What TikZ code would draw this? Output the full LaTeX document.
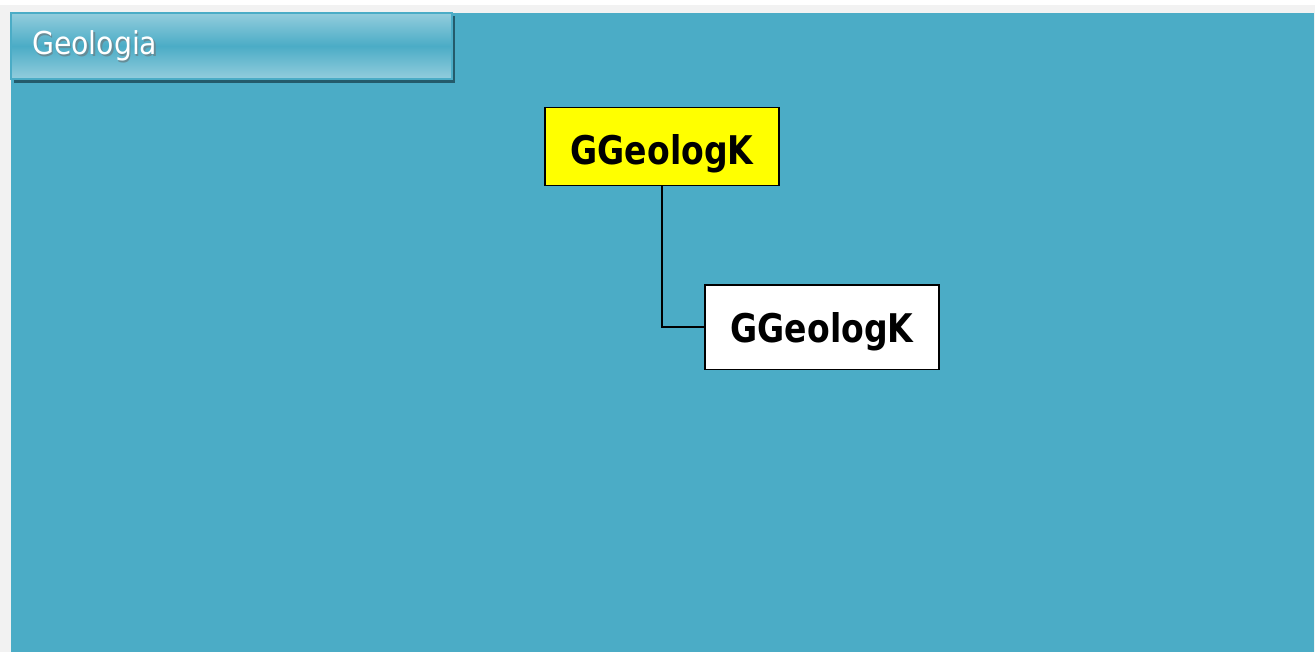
\documentclass[tikz,border=0pt]{standalone}
\usepackage{fontspec}
\setmainfont{DejaVu Sans Condensed}
\newfontfamily\boxfont{DejaVu Sans Condensed}[FakeStretch=0.93]
\definecolor{panelteal}{HTML}{4BACC6}
\definecolor{barlight}{HTML}{93CDDD}
\definecolor{barshadow}{HTML}{245B6B}
\definecolor{pagegray}{HTML}{F2F2F2}
\definecolor{boxyellow}{HTML}{FFFF00}
\begin{document}
\begin{tikzpicture}[x=1pt, y=-1pt, inner sep=0mm,
		barstyle/.style={draw=panelteal, line width=2pt, minimum width=441pt, minimum height=66pt,
			top color=barlight, bottom color=barlight, middle color=panelteal},
		titlestyle/.style={anchor=base west, font=\fontsize{31.5}{34}\selectfont},
		nodestyle/.style={draw, line width=1.8pt, minimum width=234pt, text depth=0pt,
			font=\boxfont\bfseries\fontsize{39.5}{42}\selectfont},
		edgestyle/.style={line width=1.8pt}]

		\useasboundingbox (0,0) rectangle (1315,652);
		\fill [white] (0,0) rectangle (1315,652);
		\fill [pagegray] (0,5) rectangle (1315,652);
		\fill [panelteal] (11,13) rectangle (1314,652);

		\fill [barshadow] (14,16) rectangle (455,83);
		\node [barstyle] (bar) at (231,46) {};
		\node [titlestyle, text=barshadow!70] (titleshadow) at (33.5,56.5) {Geologia};
		\node [titlestyle, text=white] (title) at (32,55) {Geologia};

		\node [nodestyle, fill=boxyellow, minimum height=78pt, text height=36pt] (top) at (662,146.5) {GGeologK};
		\node [nodestyle, fill=white, minimum height=84.5pt, text height=30pt] (child) at (822,327.2) {GGeologK};

		\draw [edgestyle] (top) |- (child);
		\end{tikzpicture}
\end{document}
